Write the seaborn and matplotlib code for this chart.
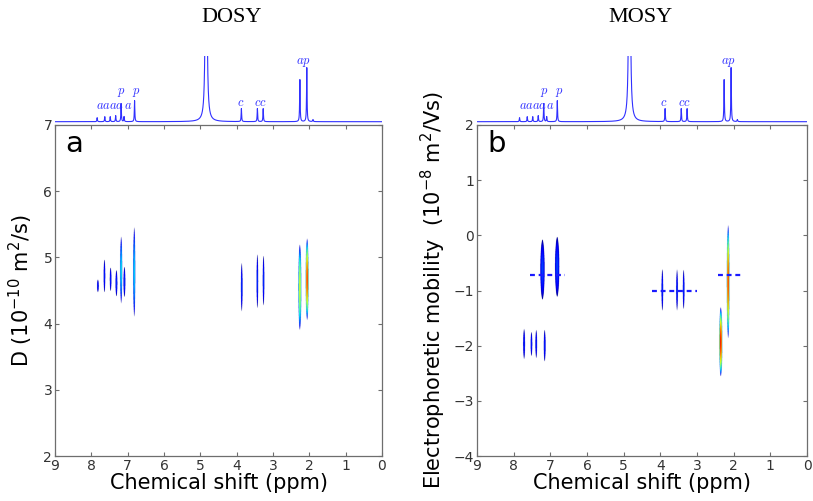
import matplotlib
matplotlib.use("Agg")
import matplotlib.pyplot as plt
import numpy as np
import pandas as pd
import seaborn as sns

# 1D proton spectrum (shared by both panels)
spec_ppm = [7.84, 7.63, 7.48, 7.33, 7.18, 7.10, 6.81, 4.84, 3.87, 3.43, 3.27, 2.26, 2.07, 1.90]
spec_height = [4, 5, 5, 6, 18, 5, 21, 520, 13, 13, 13, 42, 54, 2]
spec_width = [0.008, 0.008, 0.008, 0.008, 0.008, 0.008, 0.008, 0.015, 0.008, 0.008, 0.008, 0.008, 0.008, 0.01]

peak_labels = ["aaaa", "a", "p", "p", "c", "cc", "ap"]
peak_label_ppm = [7.48, 7.00, 7.17, 6.76, 3.90, 3.35, 2.15]
peak_label_h = [12.4, 12.4, 27.5, 27.5, 16, 16, 58]

# DOSY cross peaks: ppm, D centre, half span in D, half width in ppm, intensity
dosy_ppm = [7.82, 7.64, 7.47, 7.31, 7.18, 7.09, 6.82, 3.86, 3.43, 3.26, 2.26, 2.06]
dosy_D = [4.57, 4.72, 4.67, 4.61, 4.81, 4.63, 4.78, 4.55, 4.64, 4.65, 4.55, 4.67]
dosy_span = [0.10, 0.25, 0.18, 0.20, 0.51, 0.23, 0.68, 0.37, 0.41, 0.38, 0.65, 0.62]
dosy_width = [0.03, 0.03, 0.03, 0.033, 0.036, 0.033, 0.036, 0.03, 0.03, 0.03, 0.048, 0.048]
dosy_amp = [0.16, 0.16, 0.16, 0.17, 0.38, 0.17, 0.36, 0.18, 0.18, 0.18, 0.62, 0.88]

# MOSY cross peaks: ppm, mobility centre, half span, half width, intensity
mosy_ppm = [7.22, 6.82, 7.72, 7.52, 7.39, 7.16, 3.96, 3.56, 3.38, 2.17, 2.37]
mosy_mu = [-0.62, -0.57, -1.97, -1.97, -1.97, -2.00, -0.99, -0.99, -0.98, -0.84, -1.93]
mosy_span = [0.55, 0.55, 0.28, 0.22, 0.26, 0.29, 0.38, 0.38, 0.36, 1.03, 0.63]
mosy_width = [0.065, 0.065, 0.032, 0.03, 0.03, 0.032, 0.03, 0.03, 0.03, 0.045, 0.05]
mosy_amp = [0.19, 0.19, 0.16, 0.16, 0.16, 0.16, 0.17, 0.17, 0.17, 0.88, 0.92]

# dashed mobility markers: ppm start, ppm end, mobility
dash_start = [7.55, 4.24, 2.43]
dash_end = [6.60, 3.00, 1.81]
dash_mu = [-0.72, -1.00, -0.72]

sns.set_theme(style="ticks")
plt.rcParams.update({
    "font.family": ["DejaVu Sans"],
    "mathtext.default": "regular",
    "axes.edgecolor": "#6e6e6e",
    "axes.linewidth": 0.9,
    "xtick.color": "#6e6e6e",
    "ytick.color": "#6e6e6e",
    "xtick.labelcolor": "#333333",
    "ytick.labelcolor": "#333333",
})

W, H = 813, 501
fig = plt.figure(figsize=(W / 100, H / 100), dpi=100)

grid = np.linspace(9, 0, 9001)
spec = np.zeros_like(grid)
for c, h, g in zip(spec_ppm, spec_height, spec_width):
    spec += h * g ** 2 / ((grid - c) ** 2 + g ** 2)
spec_df = pd.DataFrame({"ppm": grid, "I": spec})

cmap = plt.get_cmap("jet").copy()
cmap.set_bad((1, 1, 1, 0))


def draw_map(ax, ppm, yc, span, width, amp, ylim):
    xs = np.linspace(9, 0, 3000)
    ys = np.linspace(ylim[1], ylim[0], 1500)
    X, Y = np.meshgrid(xs, ys)
    Z = np.zeros_like(X)
    for p, y0, hy, hx, a in zip(ppm, yc, span, width, amp):
        r = ((Y - y0) / hy) ** 2 + ((X - p) / hx) ** 2
        Z = np.maximum(Z, a * np.clip(1 - r, 0, None) ** 0.85)
    Zm = np.ma.masked_where(Z <= 0.003, Z)
    ax.imshow(Zm, extent=[9, 0, ylim[0], ylim[1]], cmap=cmap, vmin=0, vmax=1,
              aspect="auto", origin="upper", interpolation="antialiased")


def style_main(ax, ylim, yticks):
    ax.set_xlim(9, 0)
    ax.set_ylim(*ylim)
    ax.set_xticks(range(0, 10))
    ax.set_yticks(yticks)
    ax.tick_params(direction="in", length=3, width=0.8, top=True, right=True,
                   labelsize=10, pad=2)
    for s in ax.spines.values():
        s.set_visible(True)
    ax.set_xlabel("Chemical shift (ppm)", fontsize=15, labelpad=0, color="black")


def draw_spectrum(rect):
    sax = fig.add_axes(rect)
    sns.lineplot(data=spec_df, x="ppm", y="I", ax=sax, color="#3030ff", linewidth=0.8,
                 estimator=None, sort=False)
    sax.set_xlim(9, 0)
    sax.set_ylim(-3.3, 65.7)
    sax.axis("off")
    for lab, x, y in zip(peak_labels, peak_label_ppm, peak_label_h):
        sax.text(x, y, r"$\mathit{" + lab + "}$", color="#3030ff", fontsize=9,
                 ha="center", va="baseline", math_fontfamily="cm")
    return sax


ax_b = 1 - 456 / H
ax_h = 331 / H
spec_rect_b = 1 - 125 / H
spec_rect_h = 69 / H

# DOSY panel
ax1 = fig.add_axes([55 / W, ax_b, 327 / W, ax_h])
draw_map(ax1, dosy_ppm, dosy_D, dosy_span, dosy_width, dosy_amp, (2, 7))
style_main(ax1, (2, 7), range(2, 8))
ax1.set_ylabel("D (10$^{-10}$ m$^2$/s)", fontsize=15, labelpad=6, color="black")
ax1.text(0.03, 0.985, "a", transform=ax1.transAxes, fontsize=21, va="top", ha="left",
         color="black")
draw_spectrum([55 / W, spec_rect_b, 327 / W, spec_rect_h])
fig.text(232 / W, 1 - 18 / H, "DOSY", family="Liberation Serif", fontsize=16,
         ha="center", va="center", color="black")

# MOSY panel
ax2 = fig.add_axes([477 / W, ax_b, 330 / W, ax_h])
draw_map(ax2, mosy_ppm, mosy_mu, mosy_span, mosy_width, mosy_amp, (-4, 2))
for x0, x1, m in zip(dash_start, dash_end, dash_mu):
    ax2.plot([x0, x1], [m, m], color="#1a1aff", linewidth=1.6, dashes=(2.2, 1.7))
style_main(ax2, (-4, 2), range(-4, 3))
ax2.set_ylabel("Electrophoretic mobility  (10$^{-8}$ m$^2$/Vs)", fontsize=15,
               labelpad=4, color="black")
ax2.text(0.03, 0.985, "b", transform=ax2.transAxes, fontsize=21, va="top", ha="left",
         color="black")
draw_spectrum([477 / W, spec_rect_b, 330 / W, spec_rect_h])
fig.text(640 / W, 1 - 18 / H, "MOSY", family="Liberation Serif", fontsize=16,
         ha="center", va="center", color="black")

fig.savefig("out.png", dpi=100)
